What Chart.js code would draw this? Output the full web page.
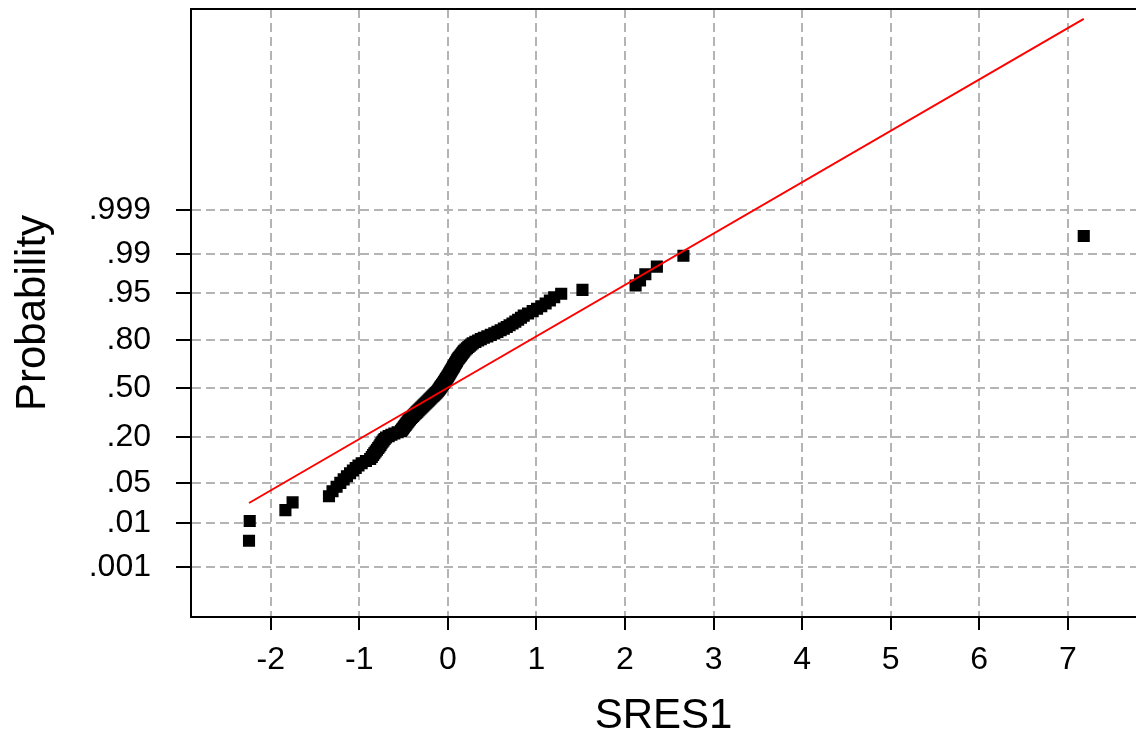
<!DOCTYPE html>
<html>
<head>
<meta charset="utf-8">
<title>Probability plot - SRES1</title>
<script src="https://cdn.jsdelivr.net/npm/chart.js"></script>
<style>
    html, body { margin: 0; padding: 0; background: #fff; overflow: hidden; }
    #wrap { width: 1136px; height: 730px; overflow: hidden; }
</style>
</head>
<body>
<div id="wrap"><canvas id="grafico" width="1145" height="730"></canvas></div>
<script>
// standardized residuals, sorted
const sres = [
    -2.245, -2.237, -1.834, -1.753, -1.342, -1.302, -1.256, -1.214, -1.176, -1.139,
    -1.104, -1.072, -1.040, -1.009, -0.973, -0.925, -0.877, -0.859, -0.844, -0.830,
    -0.815, -0.800, -0.786, -0.773, -0.761, -0.750, -0.738, -0.726, -0.714, -0.698,
    -0.668, -0.637, -0.604, -0.567, -0.529, -0.517, -0.507, -0.497, -0.487, -0.477,
    -0.467, -0.457, -0.447, -0.437, -0.427, -0.416, -0.404, -0.392, -0.380, -0.368,
    -0.356, -0.344, -0.332, -0.321, -0.309, -0.298, -0.286, -0.275, -0.264, -0.252,
    -0.241, -0.229, -0.218, -0.207, -0.196, -0.185, -0.174, -0.163, -0.152, -0.141,
    -0.130, -0.120, -0.110, -0.102, -0.095, -0.087, -0.080, -0.072, -0.065, -0.057,
    -0.049, -0.042, -0.034, -0.027, -0.021, -0.014, -0.007, 0.000, 0.007, 0.014,
    0.020, 0.027, 0.033, 0.040, 0.047, 0.054, 0.061, 0.068, 0.074, 0.081,
    0.088, 0.095, 0.102, 0.108, 0.117, 0.127, 0.137, 0.147, 0.157, 0.166,
    0.176, 0.186, 0.200, 0.216, 0.232, 0.248, 0.265, 0.281, 0.311, 0.342,
    0.372, 0.406, 0.446, 0.485, 0.525, 0.560, 0.596, 0.632, 0.665, 0.697,
    0.730, 0.762, 0.794, 0.826, 0.857, 0.906, 0.958, 1.007, 1.055, 1.104,
    1.152, 1.201, 1.280, 1.520, 2.120, 2.170, 2.230, 2.360, 2.660, 7.180
];

const xTicks = [-2, -1, 0, 1, 2, 3, 4, 5, 6, 7];
const probTicks = [0.001, 0.01, 0.05, 0.2, 0.5, 0.8, 0.95, 0.99, 0.999];
const probLabels = ['.001', '.01', '.05', '.20', '.50', '.80', '.95', '.99', '.999'];

// fitted normal line
const fitMean = -0.013;
const fitSd = 1.124;

const fonte = "'Liberation Sans', Arial, sans-serif";

window.onload = function () {
    desenharGrafico();
}

// inverse normal cdf (Acklam)
function probit(p) {
    const a = [-3.969683028665376e+01, 2.209460984245205e+02, -2.759285104469687e+02, 1.383577518672690e+02, -3.066479806614716e+01, 2.506628277459239e+00];
    const b = [-5.447609879822406e+01, 1.615858368580409e+02, -1.556989798598866e+02, 6.680131188771972e+01, -1.328068155288572e+01];
    const c = [-7.784894002430293e-03, -3.223964580411365e-01, -2.400758277161838e+00, -2.549732539343734e+00, 4.374664141464968e+00, 2.938163982698783e+00];
    const d = [7.784695709041462e-03, 3.224671290700398e-01, 2.445134137142996e+00, 3.754408661907416e+00];
    const plow = 0.02425;
    let q, r;
    if (p < plow) {
        q = Math.sqrt(-2 * Math.log(p));
        return (((((c[0] * q + c[1]) * q + c[2]) * q + c[3]) * q + c[4]) * q + c[5]) /
            ((((d[0] * q + d[1]) * q + d[2]) * q + d[3]) * q + 1);
    }
    if (p <= 1 - plow) {
        q = p - 0.5;
        r = q * q;
        return (((((a[0] * r + a[1]) * r + a[2]) * r + a[3]) * r + a[4]) * r + a[5]) * q /
            (((((b[0] * r + b[1]) * r + b[2]) * r + b[3]) * r + b[4]) * r + 1);
    }
    q = Math.sqrt(-2 * Math.log(1 - p));
    return -(((((c[0] * q + c[1]) * q + c[2]) * q + c[3]) * q + c[4]) * q + c[5]) /
        ((((d[0] * q + d[1]) * q + d[2]) * q + d[3]) * q + 1);
}

const bordaTopo = {
    id: 'bordaTopo',
    afterDraw(chart) {
        const { ctx, chartArea } = chart;
        ctx.save();
        ctx.strokeStyle = '#000';
        ctx.lineWidth = 2;
        ctx.beginPath();
        ctx.moveTo(chartArea.left - 1, chartArea.top);
        ctx.lineTo(chartArea.right, chartArea.top);
        ctx.stroke();
        ctx.restore();
    }
};

function desenharGrafico() {
    const n = sres.length;
    // normal scores (Blom positions)
    const pontos = sres.map((v, i) => ({ x: v, y: probit((i + 1 - 0.375) / (n + 0.25)) }));
    const xMin = Math.min(...sres);
    const xMax = Math.max(...sres);
    const linha = [
        { x: xMin, y: (xMin - fitMean) / fitSd },
        { x: xMax, y: (xMax - fitMean) / fitSd }
    ];

    const grade = {
        color: '#b4b4b4',
        lineWidth: 2,
        tickColor: '#000',
        tickWidth: 2
    };

    const ctx = document.getElementById('grafico').getContext('2d');
    const myChart = new Chart(ctx, {
        type: 'scatter',
        data: {
            datasets: [
                {
                    label: 'fit',
                    data: linha,
                    showLine: true,
                    borderColor: '#ff0000',
                    borderWidth: 2,
                    pointRadius: 0,
                    order: 0
                },
                {
                    label: 'SRES1',
                    data: pontos,
                    pointStyle: 'rect',
                    pointRadius: 7.5,
                    backgroundColor: '#000',
                    borderColor: '#000',
                    borderWidth: 1.5,
                    order: 1
                }
            ]
        },
        options: {
            responsive: false,
            animation: false,
            layout: { padding: { top: 6, left: 0, right: 0, bottom: 0 } },
            plugins: {
                legend: { display: false },
                tooltip: { enabled: false }
            },
            scales: {
                x: {
                    type: 'linear',
                    min: -2.9,
                    max: 7.77,
                    afterBuildTicks: (s) => { s.ticks = xTicks.map(v => ({ value: v })); },
                    afterFit: (s) => { s.height = 113; s.paddingLeft = 0; s.paddingRight = 0; },
                    grid: Object.assign({ tickLength: 13 }, grade),
                    border: { color: '#000', width: 2, dash: [9, 5] },
                    ticks: { color: '#000', padding: 11, maxRotation: 0, font: { family: fonte, size: 32 } },
                    title: {
                        display: true,
                        text: 'SRES1',
                        color: '#000',
                        padding: 0,
                        font: { family: fonte, size: 42, lineHeight: 0.667 }
                    }
                },
                y: {
                    type: 'linear',
                    min: -3.96,
                    max: 6.57,
                    afterBuildTicks: (s) => { s.ticks = probTicks.map(p => ({ value: probit(p) })); },
                    afterFit: (s) => { s.width = 191; s.paddingTop = 0; s.paddingBottom = 0; },
                    grid: Object.assign({ tickLength: 15 }, grade),
                    border: { color: '#000', width: 2, dash: [9, 5] },
                    ticks: {
                        color: '#000',
                        padding: 25,
                        font: { family: fonte, size: 32 },
                        callback: (value, index) => probLabels[index]
                    },
                    title: {
                        display: true,
                        text: 'Probability',
                        color: '#000',
                        padding: { top: 8, bottom: 0 },
                        font: { family: fonte, size: 42 }
                    }
                }
            }
        },
        plugins: [bordaTopo]
    });
}
</script>
</body>
</html>
